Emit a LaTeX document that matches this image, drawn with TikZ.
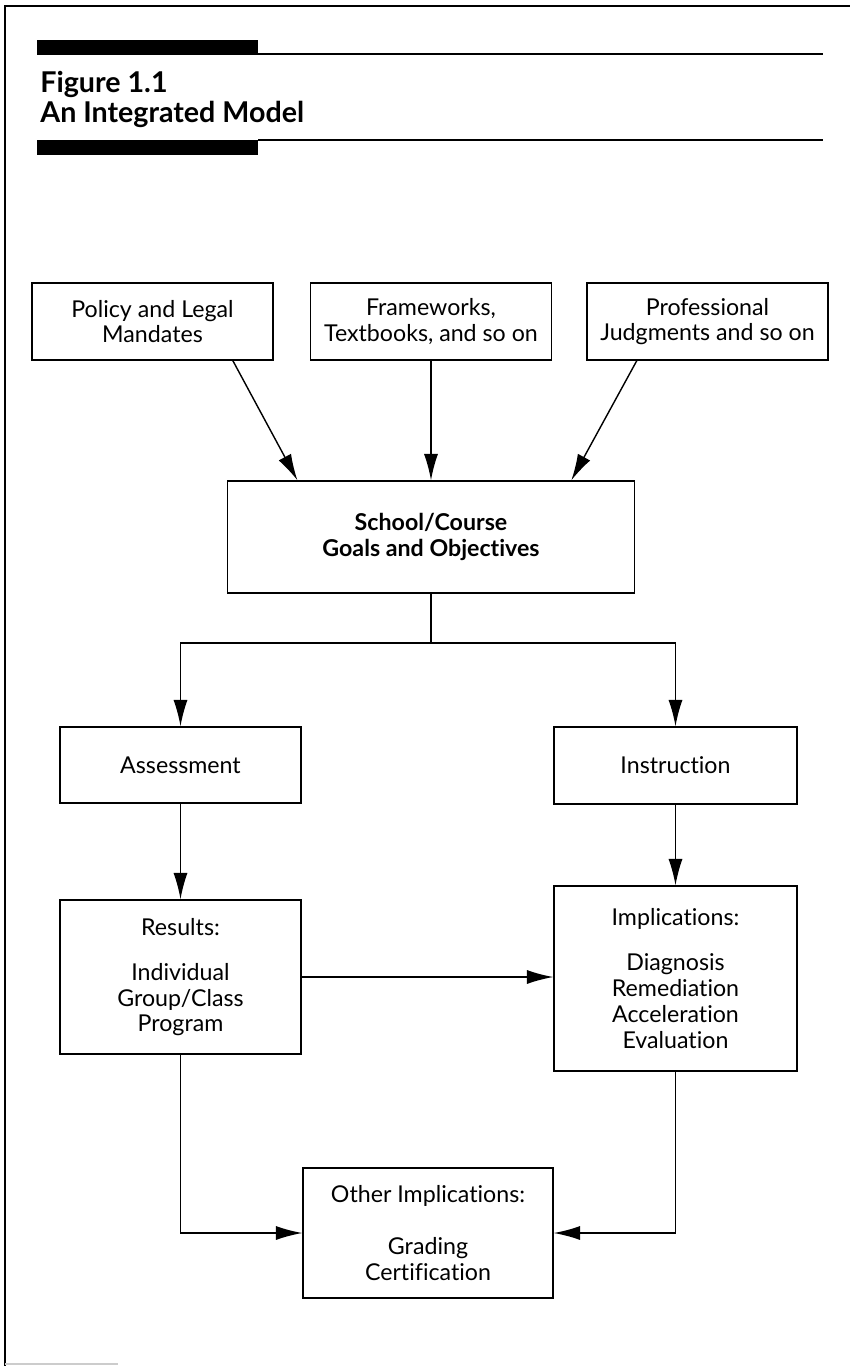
\documentclass[tikz,border=0pt]{standalone}
\usepackage{fontspec}
\setmainfont{Lato}[Ligatures=NoCommon]
\usetikzlibrary{arrows.meta}

\begin{document}
\begin{tikzpicture}[x=0.02cm,y=-0.02cm,
	box/.style={draw,line width=0.8pt,align=center,inner sep=0pt,minimum width=4.82cm,minimum height=1.54cm,font=\fontsize{13.2}{14.7}\selectfont},
	arr/.style={line width=0.8pt,-{Latex[length=15pt,width=8pt]}}]
	\useasboundingbox (0,0) rectangle (850,1366);
	% page frame and heading
	\draw [line width=0.8pt](4,6)--(850,6);
	\draw [line width=0.8pt](5,6)--(5,1366);
	\draw [gray!40,line width=0.6pt](5,1364)--(118,1364);
	\foreach \y in{40,140}
		\fill (37,\y) rectangle (258,\y+14.5);
	\draw [line width=0.7pt](258,54)--(823,54);
	\draw [line width=0.7pt](258,140)--(823,140);
	\node (fig) at(40,92) [anchor=base west,inner sep=0pt,font=\bfseries\fontsize{16.3}{18}\selectfont]{Figure 1.1};
	\node (title) at(40,122) [anchor=base west,inner sep=0pt,font=\bfseries\fontsize{16.3}{18}\selectfont]{An Integrated Model};
	% sources
	\node (pol) at(152.5,321.5) [box]{Policy and Legal\\Mandates};
	\node (frame) at(431,321.5) [box]{Frameworks,\\Textbooks, and so on};
	\node (prof) at(707.5,321.5) [box]{Professional\\Judgments and so on};
	% goals
	\node (goal) at(431,537) [box,minimum width=8.14cm,minimum height=2.24cm,font=\bfseries\fontsize{13.2}{14.7}\selectfont]{School/Course\\Goals and Objectives};
	\coordinate (split) at(431,643);
	% two branches
	\node (assess) at(180.5,765) [box,minimum height=1.52cm]{Assessment};
	\node (instr) at(675.5,765.5) [box,minimum width=4.86cm]{Instruction};
	\node (res) at(180.5,977) [box,minimum height=3.08cm]{Results:\\[11pt]Individual\\Group/Class\\Program};
	\node (impl) at(675.5,978.5) [box,minimum width=4.86cm,minimum height=3.7cm]{Implications:\\[11pt]Diagnosis\\Remediation\\Acceleration\\Evaluation};
	\node (other) at(428,1233) [box,minimum width=5cm,minimum height=2.6cm]{Other Implications:\\[15pt]Grading\\Certification};
	% connectors
	\draw [arr](pol.-26.7)--(goal.157.1);
	\draw [arr](frame.south)--(goal.north);
	\draw [arr](prof.-151.4)--(goal.22.9);
	\draw [line width=0.8pt](goal.south)--(split);
	\draw [arr](split)-|(assess.north);
	\draw [arr](split)-|(instr.north);
	\draw [arr](assess.south)--(res.north);
	\draw [arr](instr.south)--(impl.north);
	\draw [arr](res.east)--(res.east-|impl.west);
	\draw [arr](res.south)|-(other.west);
	\draw [arr](impl.south)|-(other.east);
\end{tikzpicture}
\end{document}
